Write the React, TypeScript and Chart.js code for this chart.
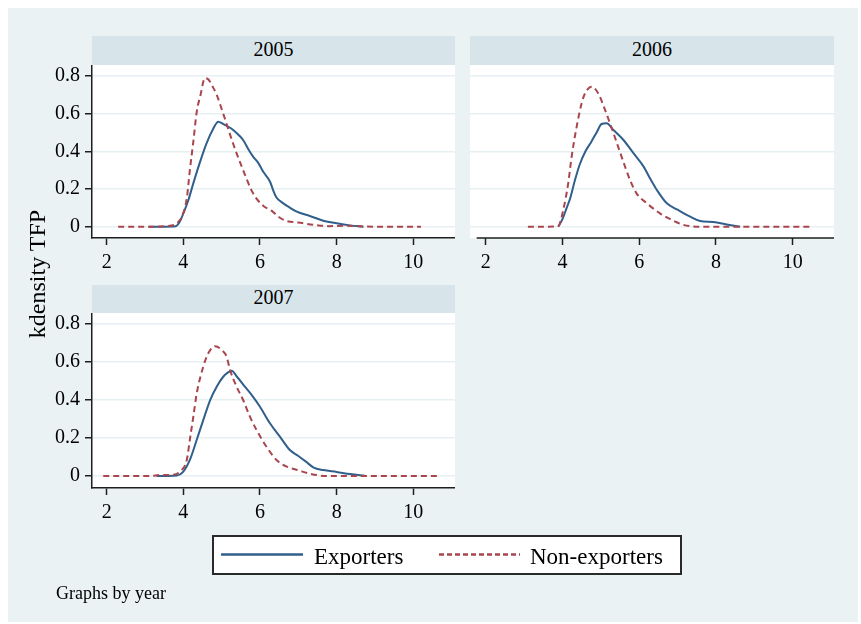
import React, { useEffect, useRef } from "react";
import { Chart, registerables } from "chart.js";

Chart.register(...registerables);

const FONT = "'Liberation Serif', 'Times New Roman', Times, serif";
const BG = "#eaf2f3";
const STRIP = "#d7e4ea";
const BLUE = "#305f8c";
const RED = "#a8454d";
const AXIS = "#1e1e1e";
const GRID = "#e6eff1";

const panelTitles = ["2005", "2006", "2007"];
const seriesNames = ["Exporters", "Non-exporters"];
const yAxisTitle = "kdensity TFP";
const noteText = "Graphs by year";
const xTickValues = [2, 4, 6, 8, 10];
const yTickValues = [0, 0.2, 0.4, 0.6, 0.8];

// 2005
const exp2005X = [3.1, 3.5, 3.8, 3.91, 4.0, 4.13, 4.26, 4.43, 4.6, 4.78, 4.91, 5.04, 5.22, 5.3, 5.45, 5.56, 5.7, 5.82, 5.95, 6.09, 6.26, 6.35, 6.43, 6.6, 6.74, 6.96, 7.3, 7.65, 8.0, 8.35, 8.7];
const exp2005Y = [0, 0, 0.002, 0.027, 0.07, 0.14, 0.23, 0.34, 0.44, 0.52, 0.557, 0.545, 0.525, 0.513, 0.485, 0.46, 0.41, 0.372, 0.34, 0.29, 0.24, 0.19, 0.155, 0.125, 0.106, 0.08, 0.057, 0.032, 0.018, 0.007, 0];
const non2005X = [2.3, 3.0, 3.6, 3.83, 3.96, 4.09, 4.17, 4.26, 4.35, 4.45, 4.56, 4.66, 4.76, 4.87, 5.04, 5.3, 5.56, 5.82, 6.09, 6.3, 6.5, 6.7, 7.0, 7.4, 7.8, 8.2, 9.0, 10.2];
const non2005Y = [0, 0, 0.003, 0.018, 0.053, 0.15, 0.3, 0.45, 0.61, 0.7, 0.788, 0.78, 0.745, 0.7, 0.6, 0.44, 0.3, 0.177, 0.11, 0.085, 0.05, 0.03, 0.022, 0.01, 0.003, 0.005, 0, 0];

// 2006
const exp2006X = [3.89, 4.0, 4.11, 4.2, 4.33, 4.45, 4.6, 4.75, 4.89, 5.02, 5.15, 5.33, 5.59, 5.85, 6.11, 6.3, 6.46, 6.72, 7.0, 7.33, 7.59, 7.93, 8.28, 8.63];
const exp2006Y = [0, 0.04, 0.1, 0.15, 0.25, 0.33, 0.4, 0.45, 0.5, 0.545, 0.549, 0.513, 0.46, 0.39, 0.32, 0.25, 0.195, 0.124, 0.09, 0.053, 0.03, 0.025, 0.012, 0];
const non2006X = [3.1, 3.5, 3.89, 4.02, 4.15, 4.24, 4.37, 4.5, 4.59, 4.76, 4.93, 5.11, 5.33, 5.54, 5.76, 5.93, 6.2, 6.54, 6.76, 7.15, 7.6, 8.5, 9.5, 10.5];
const non2006Y = [0, 0, 0.003, 0.088, 0.23, 0.372, 0.53, 0.655, 0.708, 0.743, 0.708, 0.62, 0.496, 0.372, 0.248, 0.177, 0.124, 0.071, 0.045, 0.01, 0, 0, 0, 0];

// 2007
const exp2007X = [3.3, 3.6, 3.83, 4.0, 4.17, 4.35, 4.52, 4.7, 4.87, 5.04, 5.15, 5.26, 5.4, 5.6, 5.8, 6.0, 6.26, 6.52, 6.78, 7.0, 7.2, 7.4, 7.65, 8.0, 8.35, 8.74];
const exp2007Y = [0, 0, 0.002, 0.023, 0.084, 0.19, 0.293, 0.398, 0.468, 0.52, 0.54, 0.552, 0.52, 0.47, 0.42, 0.363, 0.276, 0.206, 0.136, 0.105, 0.075, 0.044, 0.031, 0.021, 0.01, 0];
const non2007X = [1.91, 2.5, 3.13, 3.4, 3.7, 3.91, 4.09, 4.17, 4.26, 4.35, 4.52, 4.65, 4.83, 5.0, 5.13, 5.22, 5.39, 5.56, 5.74, 5.91, 6.17, 6.43, 6.7, 7.0, 7.3, 7.74, 8.5, 9.5, 10.7];
const non2007Y = [0, 0, 0, 0.005, 0.006, 0.023, 0.084, 0.19, 0.31, 0.433, 0.573, 0.643, 0.68, 0.66, 0.625, 0.555, 0.468, 0.398, 0.31, 0.241, 0.153, 0.084, 0.049, 0.03, 0.012, 0, 0, 0, 0];

const toPoints = (xs: number[], ys: number[]) => xs.map((x, i) => ({ x, y: ys[i] }));

type PanelProps = {
  expX: number[]; expY: number[]; nonX: number[]; nonY: number[];
  left: number; top: number; width: number; height: number;
  showY: boolean; xMin: number; xMax: number; yMin: number; yMax: number;
  axisInset: number;
};

function Panel(p: PanelProps) {
  const ref = useRef<HTMLCanvasElement>(null);
  useEffect(() => {
    const whiteArea = {
      id: "whiteArea",
      beforeDraw(chart: any) {
        const { ctx, chartArea: a } = chart;
        ctx.save();
        ctx.fillStyle = "#ffffff";
        ctx.fillRect(a.left, a.top, a.right - a.left, a.bottom - a.top);
        ctx.restore();
      },
    };
    const axisLine = {
      id: "axisLine",
      afterDraw(chart: any) {
        if (!p.axisInset) return;
        const { ctx, chartArea: a } = chart;
        ctx.save();
        ctx.strokeStyle = AXIS;
        ctx.lineWidth = 1.5;
        ctx.beginPath();
        ctx.moveTo(a.left + p.axisInset, a.bottom);
        ctx.lineTo(a.right, a.bottom);
        ctx.stroke();
        ctx.restore();
      },
    };
    const chart = new Chart(ref.current as HTMLCanvasElement, {
      type: "line",
      data: {
        datasets: [
          {
            label: seriesNames[0],
            data: toPoints(p.expX, p.expY),
            borderColor: BLUE,
            borderWidth: 2,
            pointRadius: 0,
            cubicInterpolationMode: "monotone",
            fill: false,
            order: 2,
          },
          {
            label: seriesNames[1],
            data: toPoints(p.nonX, p.nonY),
            borderColor: RED,
            borderWidth: 2,
            borderDash: [6, 4],
            pointRadius: 0,
            cubicInterpolationMode: "monotone",
            fill: false,
            order: 1,
          },
        ],
      },
      options: {
        responsive: false,
        animation: false,
        layout: { padding: 0 },
        plugins: { legend: { display: false }, tooltip: { enabled: false }, title: { display: false } },
        scales: {
          x: {
            type: "linear",
            min: p.xMin,
            max: p.xMax,
            afterBuildTicks: (s: any) => { s.ticks = xTickValues.map((v) => ({ value: v })); },
            afterFit: (s: any) => { s.height = 35; s.paddingLeft = 0; s.paddingRight = 0; },
            ticks: {
              color: "#000",
              font: { family: FONT, size: 20 },
              padding: 6,
              maxRotation: 0,
              autoSkip: false,
              callback: (v: any) => String(v),
            },
            grid: { drawOnChartArea: false, drawTicks: true, tickLength: 7, tickColor: AXIS, tickWidth: 1.5 },
            border: { display: !p.axisInset, color: AXIS, width: 1.5 },
          },
          y: {
            type: "linear",
            min: p.yMin,
            max: p.yMax,
            afterBuildTicks: (s: any) => { s.ticks = yTickValues.map((v) => ({ value: v })); },
            afterFit: (s: any) => { s.width = p.showY ? 60 : 0; s.paddingTop = 0; s.paddingBottom = 0; },
            ticks: {
              display: p.showY,
              color: "#000",
              font: { family: FONT, size: 20 },
              padding: 5,
              callback: (v: any) => (v === 0 ? "0" : Number(v).toFixed(1)),
            },
            grid: { color: GRID, lineWidth: 1.5, drawTicks: p.showY, tickLength: 7, tickColor: AXIS, tickWidth: 1.5 },
            border: { display: p.showY, color: AXIS, width: 1.5 },
          },
        },
      },
      plugins: [whiteArea, axisLine],
    } as any);
    return () => chart.destroy();
  }, []);
  return (
    <canvas
      ref={ref}
      width={p.width}
      height={p.height}
      style={{ position: "absolute", left: p.left, top: p.top, width: p.width, height: p.height }}
    />
  );
}

const stripStyle = (left: number, top: number, width: number, height: number, lh: number): React.CSSProperties => ({
  position: "absolute",
  left,
  top,
  width,
  height,
  background: STRIP,
  textAlign: "center",
  fontFamily: FONT,
  fontSize: 20,
  lineHeight: lh + "px",
  color: "#000",
});

export default function App() {
  return (
    <div style={{ position: "absolute", left: 0, top: 0, width: 861, height: 624, overflow: "hidden", background: "#fff" }}>
      <div style={{ position: "absolute", left: 8, top: 8, width: 850, height: 614, background: BG }} />
      <div style={stripStyle(92, 36, 363, 29, 26)}>{panelTitles[0]}</div>
      <div style={stripStyle(470, 36, 364, 29, 26)}>{panelTitles[1]}</div>
      <div style={stripStyle(92, 285, 363, 28, 25)}>{panelTitles[2]}</div>

      <Panel expX={exp2005X} expY={exp2005Y} nonX={non2005X} nonY={non2005Y}
        left={32} top={65} width={423} height={208} showY={true}
        xMin={1.617} xMax={11.088} yMin={-0.06} yMax={0.858} axisInset={0} />
      <Panel expX={exp2006X} expY={exp2006Y} nonX={non2006X} nonY={non2006Y}
        left={470} top={65} width={364} height={208} showY={false}
        xMin={1.591} xMax={11.076} yMin={-0.06} yMax={0.858} axisInset={6.7} />
      <Panel expX={exp2007X} expY={exp2007Y} nonX={non2007X} nonY={non2007Y}
        left={32} top={313} width={423} height={210} showY={true}
        xMin={1.617} xMax={11.088} yMin={-0.063} yMax={0.854} axisInset={0} />

      <div style={{
        position: "absolute", left: 36.6 - 100, top: 274 - 12, width: 200, height: 24,
        lineHeight: "24px", fontSize: 24, fontFamily: FONT, textAlign: "center",
        transform: "rotate(-90deg)", color: "#000", whiteSpace: "nowrap",
      }}>{yAxisTitle}</div>

      <div style={{ position: "absolute", left: 212, top: 535, width: 470, height: 40, boxSizing: "border-box", border: "2px solid #2a2a2a", background: "#fff" }} />
      <svg style={{ position: "absolute", left: 0, top: 0 }} width={861} height={624}>
        <line x1={221} y1={554.5} x2={303} y2={554.5} stroke={BLUE} strokeWidth={2.5} />
        <line x1={439} y1={554.5} x2={520} y2={554.5} stroke={RED} strokeWidth={2.5} strokeDasharray="5 3" />
      </svg>
      <div style={{ position: "absolute", left: 314, top: 537, height: 40, lineHeight: "40px", fontSize: 23, fontFamily: FONT, color: "#000", whiteSpace: "nowrap" }}>{seriesNames[0]}</div>
      <div style={{ position: "absolute", left: 530, top: 537, height: 40, lineHeight: "40px", fontSize: 23, fontFamily: FONT, color: "#000", whiteSpace: "nowrap" }}>{seriesNames[1]}</div>

      <div style={{ position: "absolute", left: 56, top: 583.5, height: 18, lineHeight: "18px", fontSize: 18, fontFamily: FONT, color: "#000", whiteSpace: "nowrap" }}>{noteText}</div>
    </div>
  );
}
